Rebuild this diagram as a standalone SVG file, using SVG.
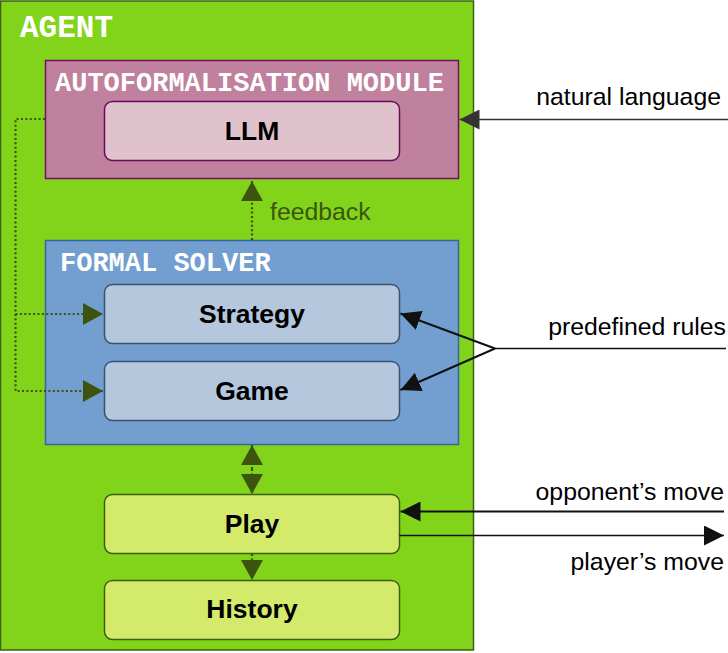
<svg xmlns="http://www.w3.org/2000/svg" width="728" height="653" viewBox="0 0 728 653">
<style>
.mono{font-family:"Liberation Mono","DejaVu Sans Mono",monospace;font-weight:bold;fill:#ffffff}
.lbl{font-family:"Liberation Sans",Arial,sans-serif;font-weight:bold;font-size:26.5px;fill:#000;text-anchor:middle}
.ext{font-family:"Liberation Sans",Arial,sans-serif;font-size:24.8px;fill:#000;text-anchor:end}
.dot{fill:none;stroke:#3c5410;stroke-width:2.2;stroke-dasharray:2 2.4}
.blk{fill:none;stroke:#111;stroke-width:2}
</style>
<defs>
<marker id="ag" viewBox="0 0 20 22" refX="20" refY="11" markerWidth="20" markerHeight="22" markerUnits="userSpaceOnUse" orient="auto">
<path d="M0,0 L20,11 L0,22 Z" fill="#3c5410"/>
</marker>
<marker id="ab" viewBox="0 0 20 20" refX="20" refY="10" markerWidth="20" markerHeight="20" markerUnits="userSpaceOnUse" orient="auto">
<path d="M0,0 L20,10 L0,20 Z" fill="#111"/>
</marker>
<marker id="ad" viewBox="0 0 20 20" refX="20" refY="10" markerWidth="20" markerHeight="20" markerUnits="userSpaceOnUse" orient="auto">
<path d="M0,0 L20,10 L0,20 Z" fill="#333"/>
</marker>
</defs>
<rect width="728" height="653" fill="#ffffff"/>
<g id="agent">
<rect x="0.5" y="1" width="473" height="649" fill="#81d41a" stroke="#3c6010" stroke-width="1.5"/>
<text class="mono" x="20" y="37" font-size="31">AGENT</text>
</g>
<g id="autoformalisation">
<rect x="45.5" y="60.5" width="413" height="118" fill="#bf819e" stroke="#7a0a6a" stroke-width="1.5"/>
<text class="mono" x="55" y="90.5" font-size="27">AUTOFORMALISATION MODULE</text>
</g>
<g id="llm">
<rect x="104.5" y="101.5" width="295" height="59" rx="8" fill="#e0c2cd" stroke="#6a0a5a" stroke-width="1.5"/>
<text class="lbl" x="252" y="140">LLM</text>
</g>
<g id="formal-solver">
<rect x="45.5" y="240.5" width="413" height="204" fill="#729fcf" stroke="#3465a4" stroke-width="1.5"/>
<text class="mono" x="60" y="270.5" font-size="27">FORMAL SOLVER</text>
</g>
<g id="strategy">
<rect x="104.5" y="284.5" width="295" height="59" rx="8" fill="#b4c7dc" stroke="#3a5070" stroke-width="1.5"/>
<text class="lbl" x="252" y="322.5">Strategy</text>
</g>
<g id="game">
<rect x="104.5" y="361.5" width="295" height="59" rx="8" fill="#b4c7dc" stroke="#3a5070" stroke-width="1.5"/>
<text class="lbl" x="252" y="399.5">Game</text>
</g>
<g id="play">
<rect x="104.5" y="494.5" width="295" height="59" rx="8" fill="#d4ea6b" stroke="#3c6010" stroke-width="1.5"/>
<text class="lbl" x="252" y="533">Play</text>
</g>
<g id="history">
<rect x="104.5" y="580.5" width="295" height="59" rx="8" fill="#d4ea6b" stroke="#3c6010" stroke-width="1.5"/>
<text class="lbl" x="252" y="618">History</text>
</g>
<g id="connectors">
<path class="dot" d="M252,240 V181" marker-end="url(#ag)"/>
<text x="270" y="220" font-family="Liberation Sans, Arial, sans-serif" font-size="24.8" fill="#3c5410">feedback</text>
<path class="dot" d="M45,119 H15.5 V391 H103" marker-end="url(#ag)"/>
<path class="dot" d="M15.5,314 H103" marker-end="url(#ag)"/>
<path class="dot" d="M252,469 V445" marker-end="url(#ag)"/>
<path class="dot" d="M252,469 V494" marker-end="url(#ag)"/>
<path class="dot" d="M252,554 V580" marker-end="url(#ag)"/>
<path d="M728,119.5 H459.5" fill="none" stroke="#333" stroke-width="1.5" marker-end="url(#ad)"/>
<text class="ext" x="721" y="105">natural language</text>
<path d="M726,348.5 H495" fill="none" stroke="#111" stroke-width="1.5"/>
<path class="blk" d="M495,348.5 L400.5,313.5" marker-end="url(#ab)"/>
<path class="blk" d="M495,348.5 L400.5,390" marker-end="url(#ab)"/>
<text class="ext" x="726" y="335">predefined rules</text>
<path class="blk" d="M724,511.5 H400.5" marker-end="url(#ab)"/>
<text class="ext" x="724" y="500">opponent’s move</text>
<path d="M399.5,535.5 H724" fill="none" stroke="#111" stroke-width="1.5" marker-end="url(#ab)"/>
<text class="ext" x="724" y="570">player’s move</text>
</g>
</svg>
